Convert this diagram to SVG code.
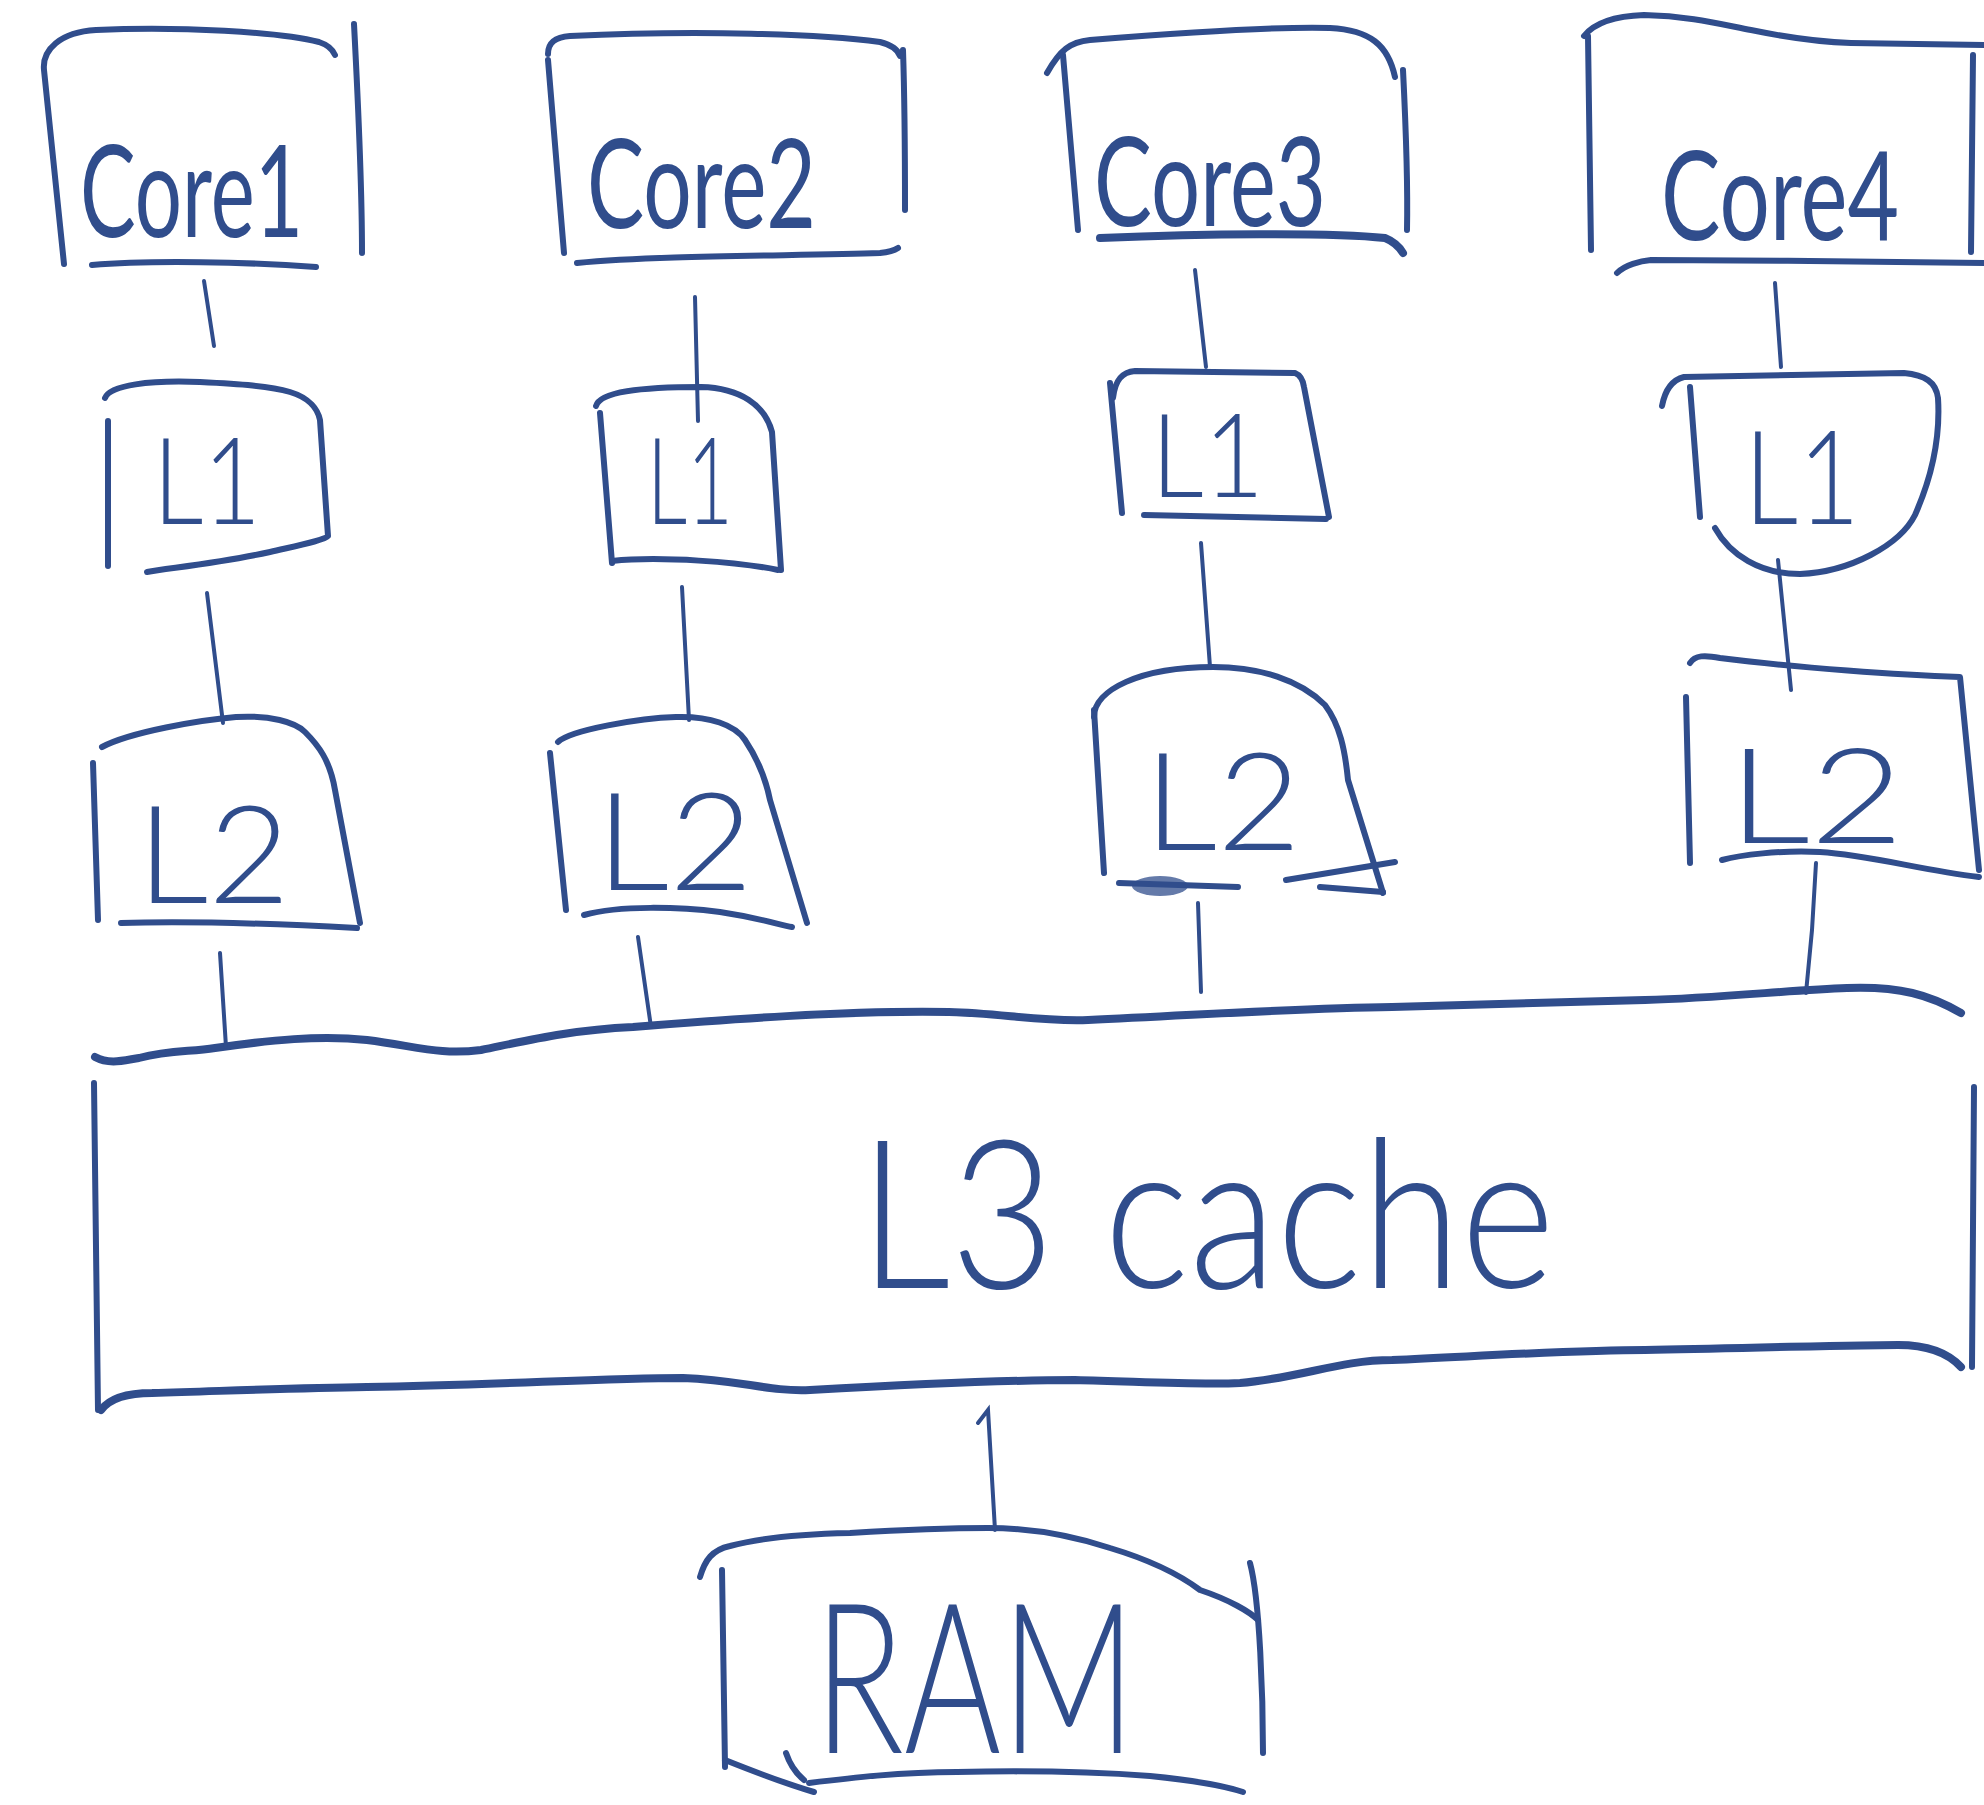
<svg xmlns="http://www.w3.org/2000/svg" width="1984" height="1805" viewBox="0 0 1984 1805">
  <style>
    .ink { fill: none; stroke: #304d8c; stroke-width: 6; stroke-linecap: round; stroke-linejoin: round; }
    .thick { stroke-width: 8; }
    .wire { fill: none; stroke: #304d8c; stroke-width: 4; stroke-linecap: round; }
    .lbl { font-family: Lato, "Open Sans", "Liberation Sans", sans-serif; font-weight: 300; fill: #304d8c; }
    .core { font-weight: 400; }
  </style>
  <rect x="0" y="0" width="1984" height="1805" fill="#ffffff"/>

  <!-- cores -->
  <g id="core1">
    <path class="ink" d="M 64,264 L 44,70 C 42,50 60,32 96,30 C 180,26 280,32 319,42 C 328,45 333,50 335,55"/>
    <path class="ink" d="M 354,24 C 358,100 362,180 362,253"/>
    <path class="ink" d="M 92,265 C 150,260 250,262 316,267"/>
    <text class="lbl core" x="80" y="237" font-size="128" textLength="223" lengthAdjust="spacingAndGlyphs">Core1</text>
  </g>
  <g id="core2">
    <path class="ink" d="M 548,54 C 548,42 556,37 570,36 C 700,30 820,34 880,42 C 892,45 898,50 900,56"/>
    <path class="ink" d="M 548,60 L 564,253"/>
    <path class="ink" d="M 903,50 C 905,110 905,170 905,210"/>
    <path class="ink" d="M 577,263 C 660,255 800,256 880,253 C 890,252 895,250 898,248"/>
    <text class="lbl core" x="587" y="228" font-size="124" textLength="229" lengthAdjust="spacingAndGlyphs">Core2</text>
  </g>
  <g id="core3">
    <path class="ink" d="M 1047,73 C 1060,50 1070,42 1090,40 C 1180,33 1280,26 1330,28 C 1370,30 1388,45 1395,77"/>
    <path class="ink" d="M 1063,55 L 1078,230"/>
    <path class="ink" d="M 1403,70 C 1406,130 1408,180 1407,230"/>
    <path class="ink thick" d="M 1100,238 C 1200,234 1330,232 1385,238 C 1395,242 1400,248 1403,253"/>
    <text class="lbl core" x="1094" y="226" font-size="124" textLength="232" lengthAdjust="spacingAndGlyphs">Core3</text>
  </g>
  <g id="core4">
    <path class="ink" d="M 1584,36 C 1595,22 1615,16 1644,15 C 1690,16 1720,24 1751,30 C 1790,38 1820,42 1851,43 L 1984,45"/>
    <path class="ink" d="M 1588,36 L 1591,250"/>
    <path class="ink" d="M 1617,273 C 1625,265 1640,261 1651,260 C 1760,260 1880,262 1984,263"/>
    <path class="ink" d="M 1973,55 L 1971,252"/>
    <text class="lbl core" x="1661" y="240" font-size="124" textLength="238" lengthAdjust="spacingAndGlyphs">Core4</text>
  </g>

  <!-- level 1 caches -->
  <g id="l1-1">
    <path class="ink" d="M 105,398 C 110,385 150,380 200,382 C 240,384 270,386 290,392 C 310,398 318,410 320,420 L 328,536 C 325,540 300,545 270,552 C 220,563 170,568 147,572"/>
    <path class="ink" d="M 108,421 L 108,566"/>
    <text class="lbl" x="153" y="524" font-size="120" textLength="108" lengthAdjust="spacingAndGlyphs">L1</text>
  </g>
  <g id="l1-2">
    <path class="ink" d="M 596,406 C 600,392 640,387 701,387 C 740,388 765,405 772,432 L 781,570"/>
    <path class="ink" d="M 612,561 C 660,556 740,562 778,570"/>
    <path class="ink" d="M 600,413 L 612,563"/>
    <text class="lbl" x="647" y="524" font-size="120" textLength="86" lengthAdjust="spacingAndGlyphs">L1</text>
  </g>
  <g id="l1-3">
    <path class="ink" d="M 1113,398 C 1115,380 1122,372 1135,371 L 1295,373 C 1300,375 1303,380 1304,387 L 1329,517"/>
    <path class="ink" d="M 1144,515 L 1326,519"/>
    <path class="ink" d="M 1110,383 L 1122,513"/>
    <text class="lbl" x="1151" y="497" font-size="116" textLength="113" lengthAdjust="spacingAndGlyphs">L1</text>
  </g>
  <g id="l1-4">
    <path class="ink" d="M 1662,406 C 1665,390 1672,380 1684,377 L 1904,373 C 1925,375 1936,382 1938,398 C 1940,430 1935,470 1915,515 C 1900,545 1850,572 1800,574 C 1760,574 1730,555 1715,528"/>
    <path class="ink" d="M 1690,387 L 1700,517"/>
    <text class="lbl" x="1744" y="524" font-size="130" textLength="116" lengthAdjust="spacingAndGlyphs">L1</text>
  </g>

  <!-- level 2 caches -->
  <g id="l2-1">
    <path class="ink" d="M 102,747 C 130,732 200,720 236,717 C 270,715 295,722 305,732 C 318,745 330,760 335,790 L 360,923"/>
    <path class="ink" d="M 121,923 C 200,920 300,925 357,928"/>
    <path class="ink" d="M 93,763 L 98,920"/>
    <text class="lbl" x="137" y="903" font-size="136" textLength="153" lengthAdjust="spacingAndGlyphs">L2</text>
  </g>
  <g id="l2-2">
    <path class="ink" d="M 558,742 C 570,730 640,718 676,717 C 710,716 735,725 745,740 C 755,755 765,775 770,800 L 807,923"/>
    <path class="ink" d="M 584,915 C 620,905 680,907 720,912 C 760,918 780,925 792,927"/>
    <path class="ink" d="M 550,753 L 566,910"/>
    <text class="lbl" x="596" y="890" font-size="136" textLength="157" lengthAdjust="spacingAndGlyphs">L2</text>
  </g>
  <g id="l2-3">
    <path class="ink" d="M 1094,717 C 1094,690 1140,667 1213,667 C 1260,667 1300,680 1325,705 C 1340,725 1345,750 1348,780 L 1383,893"/>
    <path class="ink" d="M 1119,883 L 1238,887"/>
    <path class="ink" d="M 1286,880 L 1395,862"/>
    <path class="ink" d="M 1320,887 L 1383,892"/>
    <path class="ink" d="M 1094,710 L 1104,873"/>
    <ellipse cx="1160" cy="886" rx="28" ry="10" fill="#304d8c" opacity="0.75"/>
    <text class="lbl" x="1144" y="850" font-size="136" textLength="157" lengthAdjust="spacingAndGlyphs">L2</text>
  </g>
  <g id="l2-4">
    <path class="ink" d="M 1690,663 C 1695,655 1705,655 1720,658 C 1800,668 1900,675 1960,677 L 1979,870"/>
    <path class="ink" d="M 1979,877 C 1920,870 1870,855 1820,852 C 1780,850 1740,855 1722,860"/>
    <path class="ink" d="M 1686,697 L 1690,863"/>
    <text class="lbl" x="1728" y="843" font-size="132" textLength="176" lengthAdjust="spacingAndGlyphs">L2</text>
  </g>

  <!-- shared level 3 cache -->
  <g id="l3">
    <path class="ink thick" d="M 95,1057 C 110,1065 125,1060 139,1058 C 170,1050 190,1052 215,1048 C 270,1040 320,1035 367,1040 C 420,1047 440,1055 481,1050 C 530,1040 570,1030 633,1027 C 720,1020 850,1010 949,1012 C 1000,1013 1040,1022 1088,1020 C 1200,1015 1300,1008 1392,1007 C 1500,1004 1580,1002 1645,1000 C 1720,998 1790,990 1847,988 C 1900,986 1930,995 1961,1013"/>
    <path class="ink" d="M 94,1083 L 98,1410"/>
    <path class="ink" d="M 1974,1087 L 1972,1367"/>
    <path class="ink thick" d="M 101,1410 C 110,1398 130,1393 152,1393 C 250,1390 300,1388 367,1387 C 500,1385 600,1378 683,1378 C 740,1380 770,1392 810,1390 C 900,1385 1000,1380 1075,1380 C 1150,1382 1200,1385 1240,1383 C 1300,1378 1340,1360 1392,1360 C 1500,1355 1580,1350 1645,1350 C 1750,1348 1850,1345 1898,1345 C 1930,1345 1950,1355 1961,1367"/>
    <text class="lbl" x="859" y="1288" font-size="208" textLength="696" lengthAdjust="spacingAndGlyphs">L3 cache</text>
  </g>

  <!-- main memory -->
  <g id="ram">
    <path class="ink" d="M 700,1577 C 705,1560 712,1550 730,1546 C 760,1538 800,1534 850,1533 C 900,1530 950,1528 988,1528 C 1030,1528 1070,1535 1110,1548 C 1150,1560 1180,1575 1200,1590 C 1230,1600 1250,1612 1258,1620"/>
    <path class="ink" d="M 1250,1563 C 1260,1600 1263,1700 1263,1753"/>
    <path class="ink" d="M 722,1570 L 725,1767"/>
    <path class="ink" d="M 725,1760 C 750,1770 790,1785 814,1792"/>
    <path class="ink" d="M 786,1753 C 790,1765 798,1775 804,1780"/>
    <path class="ink" d="M 809,1783 C 850,1778 900,1772 957,1772 C 1050,1770 1110,1773 1150,1776 C 1190,1780 1225,1786 1243,1792"/>
    <text class="lbl" x="814" y="1753" font-size="210" textLength="322" lengthAdjust="spacingAndGlyphs">RAM</text>
  </g>

  <!-- links between levels -->
  <g id="connectors">
    <path class="wire" d="M 204,281 L 214,346"/>
    <path class="wire" d="M 695,297 L 698,421"/>
    <path class="wire" d="M 1195,270 L 1206,367"/>
    <path class="wire" d="M 1775,283 L 1781,367"/>
    <path class="wire" d="M 207,593 L 223,723"/>
    <path class="wire" d="M 682,587 L 689,720"/>
    <path class="wire" d="M 1201,543 L 1210,667"/>
    <path class="wire" d="M 1778,560 L 1791,690"/>
    <path class="wire" d="M 220,953 L 226,1047"/>
    <path class="wire" d="M 638,937 L 651,1027"/>
    <path class="wire" d="M 1198,903 L 1201,992"/>
    <path class="wire" d="M 1816,863 L 1812,930 L 1806,993"/>
    <path class="wire" d="M 978,1423 L 988,1410 L 995,1530"/>
  </g>
</svg>
